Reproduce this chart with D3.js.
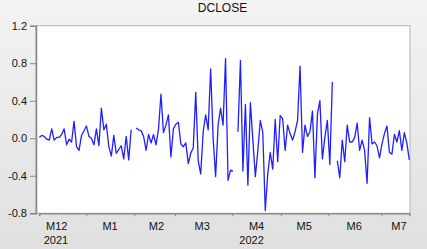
<!DOCTYPE html>
<html>
<head>
<meta charset="utf-8">
<script src="https://cdn.jsdelivr.net/npm/d3@7/dist/d3.min.js"></script>
<style>
  html, body { margin: 0; padding: 0; background: #ececec; }
  svg { display: block; font-family: Arial, "Liberation Sans", sans-serif; }
</style>
</head>
<body>
<div id="chart"></div>
<script>
// daily differences of close price, null = missing (holiday break)
const values = [
   0.01,  0.03,  0.02, -0.01, -0.02,  0.10, -0.02,  0.01,  0.01,  0.04,
   0.10, -0.07, -0.01, -0.04,  0.18, -0.09, -0.13,  0.03,  0.08,  0.13,
   0.02,  0.00, -0.07,  0.10, -0.08,  0.32,  0.09,  0.15, -0.09, -0.19,
   0.03, -0.16, -0.12, -0.08, -0.22,  0.02, -0.23,  0.09,  null,  0.11,
   0.09,  0.08,  0.02, -0.13,  0.04, -0.05,  0.04, -0.07,  0.10,  0.47,
   0.06,  0.14,  0.25, -0.20,  0.10,  0.15,  0.17, -0.06, -0.09, -0.05,
  -0.27, -0.16, -0.10,  0.49, -0.24, -0.38,  0.07,  0.25,  0.09,  0.74,
   0.00, -0.41,  0.14,  0.32,  0.14,  0.85, -0.45, -0.34, -0.35,  null,
   0.07,  0.83, -0.35,  0.36, -0.50,  0.38, -0.02, -0.41, -0.13,  0.19,
   0.06, -0.77, -0.38, -0.15, -0.33,  0.20, -0.25,  0.24,  0.21, -0.13,
   0.14,  0.05, -0.02,  0.07,  0.19,  0.77, -0.15,  0.14,  0.02,  0.07,
   0.29, -0.42,  0.26,  0.40, -0.22,  0.01,  0.19, -0.28,  0.60,  null,
  -0.24, -0.42, -0.02, -0.25,  0.14, -0.04, -0.04,  0.01,  0.16, -0.13,
  -0.02, -0.13, -0.48,  0.22, -0.06, -0.04, -0.08, -0.21, -0.06,  0.05,
   0.13, -0.15, -0.17,  0.04, -0.04,  0.08, -0.13,  0.06, -0.05, -0.23
];

const yTicks       = [-0.8, -0.4, 0.0, 0.4, 0.8, 1.2];
const monthBreaks  = [19, 38.3, 54.6, 77.7, 97.3, 116.4, 137.8];   // observation index of month starts
const monthLabels  = ["M12", "M1", "M2", "M3", "M4", "M5", "M6", "M7"];
const monthCenters = [7, 28.5, 47.2, 65.6, 87.5, 106.7, 126.8, 144.8];
const yearLabels   = ["2021", "2022"];
const yearCenters  = [6.7, 85.5];

const WIDTH  = 427;
const HEIGHT = 249;
const PLOT   = { left: 36, right: 410, top: 25.7, bottom: 213.3 };

const svg = d3.select("#chart").append("svg")
    .attr("width", WIDTH)
    .attr("height", HEIGHT);

const grad = svg.append("defs").append("linearGradient")
    .attr("id", "bg").attr("x1", 0).attr("y1", 0).attr("x2", 0).attr("y2", 1);
grad.append("stop").attr("offset", "0%").attr("stop-color", "#f3f3f3");
grad.append("stop").attr("offset", "100%").attr("stop-color", "#e0e0e0");

svg.append("rect")
    .attr("width", WIDTH).attr("height", HEIGHT)
    .attr("fill", "url(#bg)");

// plot area
svg.append("rect")
    .attr("x", PLOT.left).attr("y", PLOT.top)
    .attr("width", PLOT.right - PLOT.left)
    .attr("height", PLOT.bottom - PLOT.top)
    .attr("fill", "#ffffff")
    .attr("stroke", "#b4b4b4")
    .attr("stroke-width", 1);

const x = d3.scaleLinear().domain([0, values.length - 1]).range([39.3, 409.3]);
const y = d3.scaleLinear().domain([-0.8, 1.2]).range([PLOT.bottom, PLOT.top]);

// y axis
const yAxis = svg.append("g")
    .attr("transform", `translate(${PLOT.left},0)`)
    .call(d3.axisLeft(y).tickValues(yTicks).tickSize(6).tickPadding(3)
        .tickFormat(d => d.toFixed(1)));
yAxis.select(".domain").attr("stroke", "#8a8a8a").attr("stroke-width", 1.6);
yAxis.selectAll(".tick line").attr("stroke", "#8a8a8a");
yAxis.selectAll(".tick text")
    .attr("font-size", 11)
    .attr("font-family", "Arial, 'Liberation Sans', sans-serif")
    .attr("fill", "#111");

// x axis (month boundaries only)
const xAxis = svg.append("g")
    .attr("transform", `translate(0,${PLOT.bottom})`)
    .call(d3.axisBottom(x).tickValues(monthBreaks).tickSize(3).tickFormat(""));
xAxis.select(".domain").attr("stroke", "#8a8a8a").attr("stroke-width", 1.6);
xAxis.selectAll(".tick line").attr("stroke", "#8a8a8a");

svg.selectAll(".month")
    .data(monthLabels)
    .join("text")
    .attr("class", "month")
    .attr("x", (d, i) => x(monthCenters[i]))
    .attr("y", 229.5)
    .attr("text-anchor", "middle")
    .attr("font-size", 11)
    .attr("fill", "#111")
    .text(d => d);

svg.selectAll(".year")
    .data(yearLabels)
    .join("text")
    .attr("class", "year")
    .attr("x", (d, i) => x(yearCenters[i]))
    .attr("y", 243.5)
    .attr("text-anchor", "middle")
    .attr("font-size", 11)
    .attr("fill", "#111")
    .text(d => d);

// series
const line = d3.line()
    .defined(d => d !== null)
    .x((d, i) => x(i))
    .y(d => y(d));

svg.append("path")
    .datum(values)
    .attr("fill", "none")
    .attr("stroke", "#1f1fff")
    .attr("stroke-width", 1.3)
    .attr("stroke-linejoin", "round")
    .attr("d", line);

// title
svg.append("text")
    .attr("x", 222.5)
    .attr("y", 11.5)
    .attr("text-anchor", "middle")
    .attr("font-size", 12)
    .attr("fill", "#111")
    .text("DCLOSE");
</script>
</body>
</html>
